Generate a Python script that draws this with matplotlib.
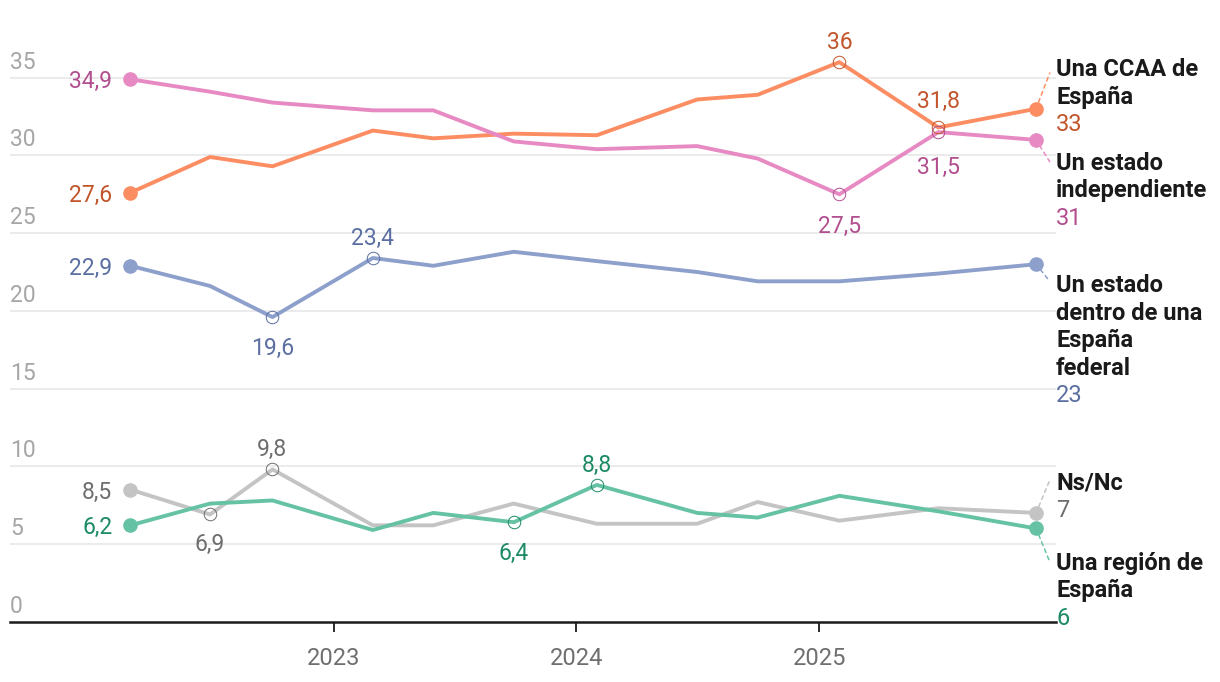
import pandas as pd
import matplotlib
matplotlib.use("Agg")
import matplotlib.pyplot as plt
import matplotlib.transforms as mtransforms

plt.rcParams['font.family'] = ['Roboto', 'DejaVu Sans']

# Datos
fechas = pd.to_datetime(['2022-03-01', '2022-06-29', '2022-10-01', '2023-03-01',
                         '2023-05-31', '2023-09-29', '2024-02-01', '2024-07-01',
                         '2024-09-30', '2025-01-31', '2025-06-29', '2025-11-23'])
ccaa = [27.6, 29.9, 29.3, 31.6, 31.1, 31.4, 31.3, 33.6, 33.9, 36, 31.8, 33]
independiente = [34.9, 34.1, 33.4, 32.9, 32.9, 30.9, 30.4, 30.6, 29.8, 27.5, 31.5, 31]
federal = [22.9, 21.6, 19.6, 23.4, 22.9, 23.8, 23.2, 22.5, 21.9, 21.9, 22.4, 23]
nsnc = [8.5, 6.9, 9.8, 6.2, 6.2, 7.6, 6.3, 6.3, 7.7, 6.5, 7.3, 7]
region = [6.2, 7.6, 7.8, 5.9, 7.0, 6.4, 8.8, 7.0, 6.7, 8.1, 7.1, 6]

nombres = ["Una CCAA de\nEspaña", "Un estado\nindependiente",
           "Un estado\ndentro de una\nEspaña\nfederal", "Ns/Nc",
           "Una región de\nEspaña"]
series = [ccaa, independiente, federal, nsnc, region]

# puntos con etiqueta intermedia: (indice, desplazamiento vertical en px)
etiquetas = [
    [(9, 22), (10, 28)],
    [(9, -30), (10, -33)],
    [(2, -29), (3, 22)],
    [(1, -28), (2, 22)],
    [(5, -29), (6, 22)],
]

colores = ['#fc8d62', '#e78ac3', '#8da0cb', '#c4c4c4', '#66c2a5']
colores_txt = ['#c2552b', '#b24f8f', '#5b6fa2', '#6e6e6e', '#1c8a66']

# posicion de las etiquetas de la derecha (y de la primera linea) y guias
y_nombre = [35.1, 29.07, 21.2, 8.48, 3.33]
y_guia = [35.3, 29.6, 21.9, 9.1, 3.86]


def fmt(v):
    if v == int(v):
        return str(int(v))
    return f"{v:.1f}".replace('.', ',')


fig = plt.figure(figsize=(12.2, 6.82), dpi=100)
ax = fig.add_axes([10 / 1220, 60.3 / 682, 1046 / 1220, 621.7 / 682])
ax.set_ylim(0, 40)
ax.set_xlim(pd.Timestamp('2021-09-01'), pd.Timestamp('2025-12-23'))
ax.patch.set_alpha(0)

for s in ['top', 'right', 'left']:
    ax.spines[s].set_visible(False)
ax.spines['bottom'].set_color('#1a1a1a')
ax.spines['bottom'].set_linewidth(1.8)

for v in range(5, 40, 5):
    ax.axhline(v, color='#e6e6e6', lw=1.1, zorder=0)

ax.set_yticks([])
ytr = mtransforms.offset_copy(ax.get_yaxis_transform(), fig, x=0, y=9, units='dots')
for v in range(0, 40, 5):
    ax.text(0, v, str(v), transform=ytr, ha='left', va='baseline',
            fontsize=16.5, color='#a6a6a6')

ax.set_xticks(pd.to_datetime(['2023-01-01', '2024-01-01', '2025-01-01']))
ax.set_xticklabels(['2023', '2024', '2025'])
ax.tick_params(axis='x', length=7.5, width=1.3, color='#1a1a1a', pad=11,
               labelsize=17, labelcolor='#6f6f6f')

dere = mtransforms.blended_transform_factory(ax.transAxes, ax.transData)

for i, vals in enumerate(series):
    c = colores[i]
    ct = colores_txt[i]
    ax.plot(fechas, vals, color=c, lw=2.8, zorder=3, solid_joinstyle='round')
    ax.plot([fechas[0], fechas[-1]], [vals[0], vals[-1]], 'o', ms=9.5,
            color=c, zorder=4)

    # etiqueta inicial a la izquierda
    tr = mtransforms.offset_copy(ax.transData, fig, x=-18, y=0, units='dots')
    ax.text(fechas[0], vals[0], fmt(vals[0]), transform=tr, ha='right',
            va='center_baseline', fontsize=16.5, color=ct)

    for idx, dy in etiquetas[i]:
        ax.plot(fechas[idx], vals[idx], 'o', ms=9, mfc='none', mec=ct,
                mew=0.7, zorder=5)
        tr = mtransforms.offset_copy(ax.transData, fig, x=0, y=dy, units='dots')
        ax.text(fechas[idx], vals[idx], fmt(vals[idx]), transform=tr,
                ha='center', va='center_baseline', fontsize=16.5, color=ct)

    # guia punteada
    ax.annotate('', xy=(0.994, y_guia[i]), xycoords=dere,
                xytext=(fechas[-1], vals[-1]), textcoords='data',
                arrowprops=dict(arrowstyle='-', color=c, lw=1.1,
                                linestyle=(0, (2.5, 2.5)), shrinkA=5, shrinkB=0),
                annotation_clip=False)

    # nombre y valor a la derecha
    lineas = nombres[i].split('\n')
    for k, linea in enumerate(lineas):
        tr = mtransforms.offset_copy(dere, fig, x=0, y=-27.5 * k, units='dots')
        ax.text(1.0, y_nombre[i], linea, transform=tr, ha='left',
                va='baseline', fontsize=17, fontweight='bold',
                color='#1a1a1a', clip_on=False)
    tr = mtransforms.offset_copy(dere, fig, x=0, y=-27.5 * len(lineas), units='dots')
    ax.text(1.0, y_nombre[i], fmt(vals[-1]), transform=tr, ha='left',
            va='baseline', fontsize=17, color=ct, clip_on=False)

fig.savefig('out.png', dpi=100)
